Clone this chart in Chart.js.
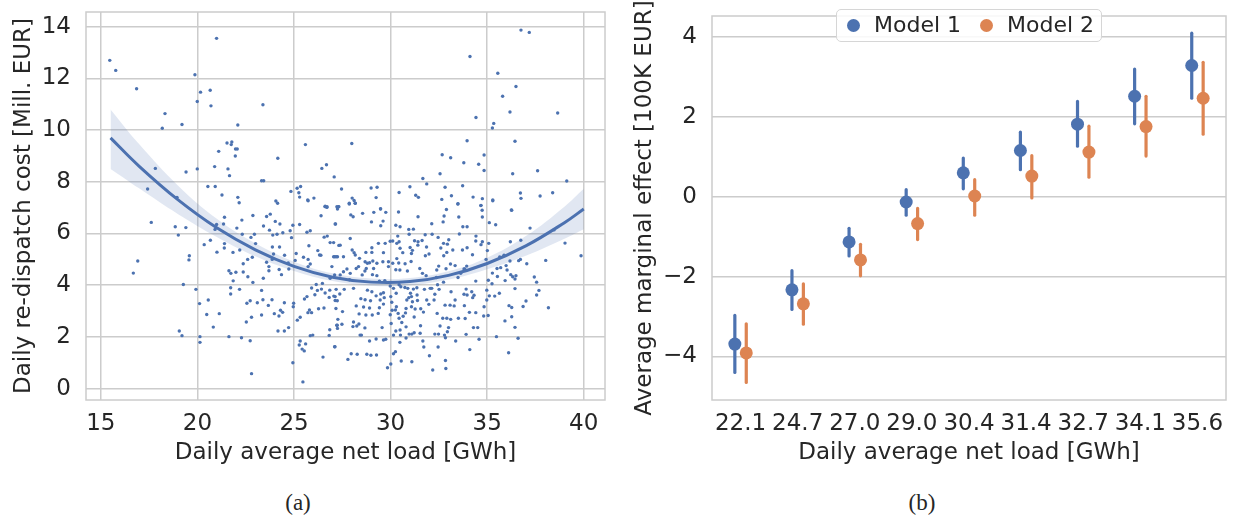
<!DOCTYPE html>
<html>
<head>
<meta charset="utf-8">
<title>Re-dispatch cost vs. net load</title>
<script src="https://cdn.jsdelivr.net/npm/chart.js"></script>
<style>
  body { margin: 0; background: #fff; font-family: "DejaVu Sans", sans-serif; color: #262626; }
  #page { position: relative; width: 1234px; height: 525px; overflow: hidden; background: #fff; }
  .panel { position: absolute; top: 0; height: 480px; }
  #panel-a { left: 0; width: 615px; }
  #panel-b { left: 615px; width: 619px; }
  .caption { position: absolute; top: 490px; font-family: "Liberation Serif", serif; font-size: 23px; transform: translateX(-50%); }
  #legend { position: absolute; left: 836px; top: 9px; width: 266px; height: 33px; box-sizing: border-box;
            border: 1.5px solid #d6d6d6; border-radius: 5px; background: rgba(255,255,255,0.85); font-size: 22px; }
  #legend .dot { position: absolute; top: 9px; width: 13px; height: 13px; border-radius: 50%; }
  #legend .lbl { position: absolute; top: 2px; line-height: 26px; }
</style>
</head>
<body>
<div id="page">
  <div class="panel" id="panel-a"><canvas id="chart-a"></canvas></div>
  <div class="panel" id="panel-b"><canvas id="chart-b"></canvas></div>
  <div id="legend">
    <span class="dot" style="left:10px;background:#4c72b0"></span><span class="lbl" style="left:37px">Model 1</span>
    <span class="dot" style="left:143px;background:#dd8452"></span><span class="lbl" style="left:170px">Model 2</span>
  </div>
  <div class="caption" style="left:298px">(a)</div>
  <div class="caption" style="left:922px">(b)</div>
</div>
<script>
// (a) daily observations: [net load GWh, re-dispatch cost Mill. EUR]
const dailyPoints = [
  [15.46,12.70],[15.77,12.31],[20.99,13.55],[19.87,12.14],[16.85,11.60],[20.16,11.47],[20.66,11.54],[19.99,11.11],[20.70,10.94],[23.39,10.98],
  [18.32,10.64],[18.18,10.07],[19.20,10.22],[22.09,10.20],[21.53,9.50],[21.78,9.54],[21.75,9.44],[21.97,9.27],[22.06,9.27],[21.10,9.18],
  [21.96,9.00],[25.59,9.44],[24.16,8.91],[20.89,8.59],[21.58,8.50],[21.66,8.24],[17.82,8.52],[19.41,8.38],[19.99,8.50],[17.42,7.72],
  [18.94,7.40],[20.54,7.82],[20.92,7.82],[21.27,7.49],[22.09,7.40],[22.16,7.19],[23.32,8.04],[23.43,8.04],[24.06,7.26],[24.15,7.17],
  [24.84,7.63],[25.16,7.75],[25.25,7.58],[25.34,7.82],[25.29,7.41],[25.71,7.30],[26.03,7.37],[26.44,8.52],[26.68,8.66],[27.08,8.19],
  [26.61,7.04],[26.70,7.01],[27.30,7.04],
  [36.75,13.87],[37.18,13.78],[34.11,12.85],[35.55,12.20],[36.49,11.69],[35.80,11.31],[36.18,10.70],[38.65,10.66],[34.42,10.49],[35.34,10.26],
  [35.27,10.08],[27.99,9.48],[33.96,9.59],[36.44,9.57],[32.67,9.05],[33.11,8.93],[34.84,9.04],[33.79,8.74],[34.56,8.68],[34.84,8.44],
  [32.56,8.31],[36.32,8.31],[37.61,8.43],[39.12,8.03],[27.46,7.72],[28.99,7.76],[29.30,7.79],[29.25,7.39],[28.01,7.37],[28.11,7.28],
  [28.17,7.17],[27.86,7.17],[29.48,6.96],[31.67,8.13],[31.87,7.92],[31.00,7.81],[30.44,7.59],[31.30,7.48],[31.44,7.40],[32.82,7.79],
  [33.73,7.85],[33.15,7.46],[32.65,7.32],[33.49,7.15],[34.27,7.41],[34.75,7.35],[34.67,7.08],[35.29,7.30],[36.72,7.57],[36.75,7.36],
  [37.74,7.45],[38.39,7.58],[36.25,6.91],
  [17.61,6.43],[18.85,6.26],[19.01,5.94],[19.40,6.23],[16.91,4.94],[16.68,4.47],[19.58,5.14],[19.56,4.98],[19.27,4.03],[19.92,3.84],
  [20.11,3.29],[20.48,2.87],[20.56,3.43],[21.13,2.90],[20.82,2.38],[19.06,2.23],[19.20,2.05],[20.13,2.01],[20.13,1.79],[21.63,2.01],
  [22.28,1.97],[22.73,1.85],[22.80,0.58],[24.94,1.00],[25.46,0.26],[26.50,1.22],[27.12,1.62],[21.40,6.63],[20.99,6.35],[21.35,6.37],
  [20.91,6.16],[20.67,5.74],[20.35,5.57],[21.01,5.28],[21.40,5.61],[21.39,5.44],[21.84,5.27],[21.63,4.56],[21.73,4.46],[21.99,4.50],
  [21.85,4.17],[21.72,3.90],[21.72,3.66],[22.18,3.84],[22.30,6.52],[22.04,6.21],[22.32,5.97],[22.19,5.36],[22.37,4.83],[22.37,4.51],
  [22.60,5.00],[22.87,6.70],[22.77,5.85],[22.84,5.08],[22.61,4.33],[22.87,4.11],[22.56,3.30],[22.73,3.40],[22.80,2.76],[22.53,2.58],
  [23.01,5.61],[22.95,5.97],[23.41,4.27],[23.32,3.80],[23.39,3.44],[23.10,3.32],[23.32,2.85],[23.42,6.29],[23.58,6.66],[23.77,6.75],
  [24.03,6.47],[24.27,6.37],[23.73,6.13],[23.90,5.94],[24.12,5.97],[24.42,6.03],[23.88,5.48],[24.25,5.48],[23.94,5.21],[23.58,4.89],
  [23.70,4.72],[23.70,4.56],[23.87,5.00],[24.23,4.61],[24.35,4.41],[23.86,3.44],[23.67,3.22],[23.98,2.90],[24.22,2.81],[24.30,3.03],
  [24.41,2.95],[24.50,3.32],[24.17,2.23],[24.50,2.23],[24.72,2.36],[24.51,5.16],[24.70,4.86],[24.80,6.11],[24.87,5.84],[24.94,6.32],
  [25.29,6.35],[25.11,5.23],[25.06,4.96],[24.73,4.63],[24.98,3.30],[24.96,3.17],[25.17,2.65],[25.32,2.76],[25.32,1.84],[25.27,1.69],
  [25.42,1.53],[25.53,1.46],[25.60,1.73],[25.49,5.08],[25.77,5.53],[25.73,5.00],[25.84,4.82],[25.73,4.72],[25.67,6.05],[25.84,6.11],
  [25.54,3.47],[25.67,3.56],[25.91,3.89],[26.15,4.03],[26.08,3.63],[26.21,3.80],[26.42,3.85],[26.61,3.70],[26.47,4.07],[25.72,2.94],
  [25.80,3.04],[25.91,2.94],[26.27,3.09],[26.55,3.12],[26.82,3.53],[26.85,3.81],[27.06,3.58],[27.13,3.41],[27.17,3.10],[25.84,2.05],
  [25.97,2.07],[26.82,2.06],[26.85,2.28],[27.21,2.45],[26.23,5.34],[26.32,5.17],[26.39,5.16],[26.56,5.86],[26.72,5.90],[26.87,5.65],
  [27.11,5.10],[27.25,5.10],[26.40,6.69],[26.61,7.06],[26.71,7.04],[27.25,6.95],[27.15,6.37],[27.32,5.54],[25.73,7.27],
  [27.22,7.04],[27.32,7.04],[27.86,7.14],[28.17,7.17],[27.13,6.37],[27.94,6.72],[28.06,6.65],[28.55,6.78],[29.13,6.82],[29.48,6.95],
  [29.75,6.82],[29.61,6.48],[29.49,6.30],[29.01,6.45],[30.41,6.83],[31.42,6.65],[32.13,6.38],[32.72,6.45],[32.89,6.93],[32.77,6.68],
  [33.48,7.14],[33.53,6.64],[33.74,6.26],[33.96,6.26],[34.68,7.09],[34.74,6.90],[34.75,6.64],[35.11,6.42],[35.44,6.34],[35.29,7.27],
  [36.27,6.90],[37.22,6.21],[38.46,6.14],[39.03,5.63],[39.86,5.14],[38.03,4.96],[38.17,3.13],[37.68,3.80],[37.56,4.12],[37.44,4.32],
  [37.56,3.62],[37.05,4.83],[36.86,3.18],[37.01,3.39],[36.72,5.00],[36.63,4.95],[36.74,5.74],[36.44,4.24],[36.49,4.37],[36.32,4.33],
  [36.44,3.87],[36.22,4.41],[36.18,4.94],[36.20,5.68],[35.98,4.76],[36.03,4.59],[35.93,4.18],[35.87,5.16],[35.65,5.09],[35.70,4.68],
  [35.63,3.69],[35.51,4.65],[35.53,4.34],[35.39,3.58],[35.27,4.47],[35.25,4.06],[35.11,3.59],[35.06,4.19],[34.98,3.81],[34.98,3.43],
  [35.05,2.83],[35.48,2.01],[35.92,2.62],[36.13,3.21],[36.27,3.14],[36.27,2.78],[36.44,2.37],[36.60,1.95],[36.11,1.39],[35.08,5.62],
  [35.01,5.34],[34.94,5.00],[34.75,5.68],[34.68,5.57],[34.42,5.90],[34.41,5.71],[34.41,4.16],[34.32,3.61],[34.25,3.52],[34.20,3.75],
  [34.84,3.17],[34.82,2.81],[34.41,2.94],[34.08,2.95],[34.29,2.36],[34.51,2.36],[34.58,1.91],[34.10,1.51],[33.91,2.10],[33.86,2.71],
  [33.82,3.21],[33.96,3.62],[33.91,3.85],[33.80,3.65],[33.63,4.46],[33.80,4.63],[33.94,4.74],[33.84,4.63],[33.49,4.30],[33.34,4.76],
  [33.22,5.36],[33.72,5.36],[33.96,5.45],[34.24,5.18],[33.56,5.98],[33.01,5.76],[32.74,5.62],[32.60,5.44],[32.94,5.59],[32.91,5.27],
  [32.75,5.14],[33.10,4.82],[32.87,4.64],[32.49,4.74],[32.39,4.59],[32.37,4.30],[32.74,4.12],[32.43,4.02],[32.13,3.88],[32.29,3.65],
  [32.51,3.84],[33.13,3.75],[33.34,3.43],[33.08,3.23],[33.29,3.20],[32.82,3.23],[32.25,3.43],[32.41,2.91],[32.70,2.72],[32.91,2.72],
  [33.11,2.68],[33.51,2.72],[33.00,2.36],[32.56,2.42],[32.48,2.11],[32.29,2.11],[32.79,2.07],[32.94,2.20],[32.84,1.97],[33.37,1.84],
  [32.46,1.61],[32.84,1.09],[32.86,0.78],[32.18,0.72],[32.01,1.27],[31.72,1.61],[31.67,1.84],[31.53,2.14],[31.55,2.43],[31.22,2.77],
  [31.70,2.96],[31.56,3.09],[31.98,3.26],[31.87,3.43],[31.75,3.84],[32.05,3.88],[31.84,4.37],[31.65,4.46],[31.80,5.14],[31.86,5.48],
  [31.99,5.21],[31.63,5.73],[31.79,5.95],[32.15,5.97],[32.46,5.85],[31.41,5.55],[31.42,5.68],[31.24,5.72],[31.13,5.35],[31.06,4.92],
  [31.08,5.23],[31.51,4.65],[30.87,4.55],[30.75,4.83],[31.01,5.46],[30.96,5.97],[31.18,6.17],[30.94,6.16],[30.49,6.26],[30.27,6.32],
  [30.37,5.90],[30.44,5.68],[30.49,5.43],[30.63,5.26],[30.32,5.03],[30.42,4.86],[30.48,4.59],[30.27,4.60],[30.53,3.94],[30.74,3.91],
  [30.89,3.88],[31.03,3.69],[30.94,3.52],[30.84,3.43],[31.13,3.36],[31.08,3.56],[31.36,3.90],[31.18,3.85],[31.37,3.62],[31.39,3.41],
  [31.08,3.17],[31.27,3.08],[30.80,3.10],[30.77,2.93],[30.65,2.80],[30.58,2.56],[30.80,2.39],[30.49,2.27],[30.27,2.23],[30.15,2.07],
  [30.51,2.07],[30.96,2.11],[31.10,2.11],[31.22,2.16],[30.80,1.96],[30.48,1.79],[30.25,1.43],[30.15,1.35],[30.55,1.07],[31.10,1.04],
  [30.01,0.95],[29.84,0.81],[30.03,2.52],[29.98,2.86],[30.08,3.03],[30.25,3.04],[30.39,2.91],[30.44,2.72],[30.30,3.17],[30.06,3.34],
  [30.01,3.56],[30.29,3.69],[30.15,3.88],[29.98,3.97],[30.44,4.02],[29.56,2.36],[29.75,1.91],[29.63,1.88],[29.25,1.92],[28.91,1.84],
  [28.98,1.29],[29.27,1.30],[28.77,1.33],[28.27,1.33],[27.96,1.35],[27.79,1.13],[28.42,2.07],[28.49,2.07],[28.67,2.35],[28.36,2.50],
  [28.08,2.58],[28.05,2.40],[27.48,2.49],[27.24,2.45],[27.10,1.62],[27.25,2.33],[27.27,2.68],[27.51,2.98],[27.24,3.40],[27.13,3.56],
  [27.37,3.66],[27.18,3.84],[27.60,3.84],[27.87,4.21],[28.08,3.88],[28.22,3.20],[28.46,3.48],[28.60,3.16],[28.68,3.44],[28.96,3.40],
  [28.91,3.12],[29.25,3.59],[29.49,3.66],[29.46,3.43],[29.63,3.71],[29.67,3.52],[29.42,3.13],[29.63,3.27],[29.05,2.85],[29.36,2.91],
  [28.37,2.89],[28.72,2.85],[28.25,2.42],[28.80,3.81],[29.03,3.75],[29.42,4.16],[29.70,4.18],[29.29,4.37],[29.06,4.41],[28.67,4.55],
  [28.53,4.40],[28.34,4.72],[28.22,4.65],[27.91,4.46],[27.74,4.63],[27.56,4.52],[27.39,4.40],[27.10,4.40],[26.96,4.72],[26.87,4.27],
  [27.05,5.10],[27.18,5.10],[27.56,5.10],[28.01,5.36],[28.11,5.26],[28.17,5.17],[27.39,5.55],[27.05,5.65],[28.72,5.27],[28.39,5.04],
  [28.68,4.91],[28.74,4.65],[28.80,4.85],[28.91,4.87],[29.08,4.94],[29.03,5.27],[29.03,5.45],[29.37,5.62],[29.72,5.62],[29.63,5.26],
  [29.98,5.70],[30.11,5.71],[30.32,5.62],[30.11,4.85],[29.89,4.91],[29.89,4.72],[29.60,4.91],[29.29,4.85],[29.12,4.65],[27.91,5.81]
];

// (a) quadratic fit and its confidence band
const fitLoad  = [15.5, 17, 19, 21, 23, 25, 27, 29, 31, 33, 35, 37, 39, 40];
const fitCost  = [9.70, 8.59, 7.30, 6.22, 5.37, 4.73, 4.31, 4.12, 4.14, 4.38, 4.84, 5.52, 6.42, 6.95];
const bandLow  = [8.50, 7.74, 6.75, 5.87, 5.12, 4.55, 4.16, 3.98, 4.00, 4.22, 4.62, 5.14, 5.80, 6.17];
const bandHigh = [10.80, 9.44, 7.85, 6.57, 5.62, 4.91, 4.46, 4.26, 4.28, 4.54, 5.06, 5.90, 7.04, 7.73];
const loadTicks = [15, 20, 25, 30, 35, 40];
const costTicks = [0, 2, 4, 6, 8, 10, 12, 14];

// (b) average marginal effects per net-load bin, with intervals
const loadBins = ['22.1', '24.7', '27.0', '29.0', '30.4', '31.4', '32.7', '34.1', '35.6'];
const model1Effect = [-3.69, -2.33, -1.13, -0.13, 0.60, 1.16, 1.82, 2.52, 3.29];
const model1Low    = [-4.40, -2.82, -1.48, -0.46, 0.20, 0.68, 1.27, 1.83, 2.47];
const model1High   = [-2.97, -1.85, -0.79, 0.18, 0.97, 1.62, 2.39, 3.20, 4.10];
const model2Effect = [-3.91, -2.68, -1.58, -0.67, 0.02, 0.52, 1.12, 1.76, 2.47];
const model2Low    = [-4.65, -3.19, -1.98, -1.07, -0.46, -0.03, 0.49, 1.02, 1.57];
const model2High   = [-3.18, -2.18, -1.19, -0.29, 0.43, 1.03, 1.77, 2.52, 3.37];
const effectTicks = [-4, -2, 0, 2, 4];

const BLUE = '#4c72b0';
const ORANGE = '#dd8452';
const GRID = '#cccccc';
const INK = '#262626';
const DODGE = 0.1;
const font = { family: "'DejaVu Sans', sans-serif", size: 23 };

Chart.defaults.color = INK;
Chart.defaults.font.family = font.family;
Chart.defaults.animation = false;

// grey frame all round the plot, like the seaborn whitegrid spines
const frame = {
  id: 'frame',
  beforeDatasetsDraw(chart) {
    const { ctx, chartArea: a } = chart;
    ctx.save();
    ctx.strokeStyle = GRID;
    ctx.lineWidth = 1.5;
    ctx.strokeRect(a.left, a.top, a.width, a.height);
    ctx.restore();
  }
};

// vertical interval bars drawn under the point markers
const errorBars = {
  id: 'errorBars',
  beforeDatasetsDraw(chart) {
    const { ctx, scales } = chart;
    ctx.save();
    ctx.lineWidth = 3.2;
    ctx.lineCap = 'round';
    chart.data.datasets.forEach(ds => {
      if (!ds.low) return;
      ctx.strokeStyle = ds.backgroundColor;
      ds.data.forEach((p, i) => {
        const x = scales.x.getPixelForValue(p.x);
        ctx.beginPath();
        ctx.moveTo(x, scales.y.getPixelForValue(ds.low[i]));
        ctx.lineTo(x, scales.y.getPixelForValue(ds.high[i]));
        ctx.stroke();
      });
    });
    ctx.restore();
  }
};

const fixedTicks = values => axis => { axis.ticks = values.map(v => ({ value: v })); };
const minus = v => (v < 0 ? '\u2212' + Math.abs(v) : String(v));
// keep the plot box where the figure has it: no extra room for edge labels
const fixWidth = w => axis => { axis.width = w; axis.paddingTop = 0; axis.paddingBottom = 0; };
const fixHeight = h => axis => { axis.height = h; axis.paddingLeft = 0; axis.paddingRight = 0; };

new Chart(document.getElementById('chart-a'), {
  type: 'scatter',
  data: {
    datasets: [
      {
        data: dailyPoints.map(p => ({ x: p[0], y: p[1] })),
        backgroundColor: BLUE, borderWidth: 0, pointRadius: 1.7
      },
      {
        type: 'line', data: fitLoad.map((x, i) => ({ x, y: bandHigh[i] })),
        borderWidth: 0, pointRadius: 0, tension: 0.4, fill: false
      },
      {
        type: 'line', data: fitLoad.map((x, i) => ({ x, y: bandLow[i] })),
        borderWidth: 0, pointRadius: 0, tension: 0.4, fill: '-1',
        backgroundColor: 'rgba(76,114,176,0.17)'
      },
      {
        type: 'line', data: fitLoad.map((x, i) => ({ x, y: fitCost[i] })),
        borderColor: BLUE, borderWidth: 3, pointRadius: 0, tension: 0.4, fill: false
      }
    ]
  },
  options: {
    responsive: true, maintainAspectRatio: false,
    layout: { padding: { top: 12, right: 10, left: 0, bottom: 0 } },
    plugins: { legend: { display: false }, tooltip: { enabled: false } },
    scales: {
      x: {
        type: 'linear', min: 14.23, max: 41.1,
        afterBuildTicks: fixedTicks(loadTicks),
        afterFit: fixHeight(80),
        grid: { color: GRID, lineWidth: 1.5, drawTicks: false },
        border: { display: false },
        ticks: { font, color: INK, padding: 10 },
        title: { display: true, text: 'Daily average net load [GWh]', font, color: INK, padding: { top: 0, bottom: 13 } }
      },
      y: {
        min: -0.44, max: 14.57,
        afterBuildTicks: fixedTicks(costTicks),
        afterFit: fixWidth(86),
        grid: { color: GRID, lineWidth: 1.5, drawTicks: false },
        border: { display: false },
        ticks: { font, color: INK, padding: 15 },
        title: { display: true, text: 'Daily re-dispatch cost [Mill. EUR]', font, color: INK, padding: { top: 10, bottom: 0 } }
      }
    }
  },
  plugins: [frame]
});

new Chart(document.getElementById('chart-b'), {
  type: 'scatter',
  data: {
    datasets: [
      {
        label: 'Model 1',
        data: model1Effect.map((y, i) => ({ x: i - DODGE, y })),
        low: model1Low, high: model1High,
        backgroundColor: BLUE, borderWidth: 0, pointRadius: 6.5
      },
      {
        label: 'Model 2',
        data: model2Effect.map((y, i) => ({ x: i + DODGE, y })),
        low: model2Low, high: model2High,
        backgroundColor: ORANGE, borderWidth: 0, pointRadius: 6.5
      }
    ]
  },
  options: {
    responsive: true, maintainAspectRatio: false,
    layout: { padding: { top: 16, right: 8, left: 0, bottom: 0 } },
    plugins: { legend: { display: false }, tooltip: { enabled: false } },
    scales: {
      x: {
        type: 'linear', min: -0.5, max: 8.5,
        afterBuildTicks: fixedTicks(loadBins.map((_, i) => i)),
        afterFit: fixHeight(80),
        grid: { display: false, drawTicks: false },
        border: { display: false },
        ticks: { font, color: INK, padding: 10, callback: v => loadBins[v] },
        title: { display: true, text: 'Daily average net load [GWh]', font, color: INK, padding: { top: 0, bottom: 13 } }
      },
      y: {
        min: -5.09, max: 4.53,
        afterBuildTicks: fixedTicks(effectTicks),
        afterFit: fixWidth(97),
        grid: { color: GRID, lineWidth: 1.5, drawTicks: false },
        border: { display: false },
        ticks: { font, color: INK, padding: 15, callback: minus },
        title: { display: true, text: 'Average marginal effect [100K EUR]', font, color: INK, padding: { top: 16, bottom: 0 } }
      }
    }
  },
  plugins: [frame, errorBars]
});
</script>
</body>
</html>
